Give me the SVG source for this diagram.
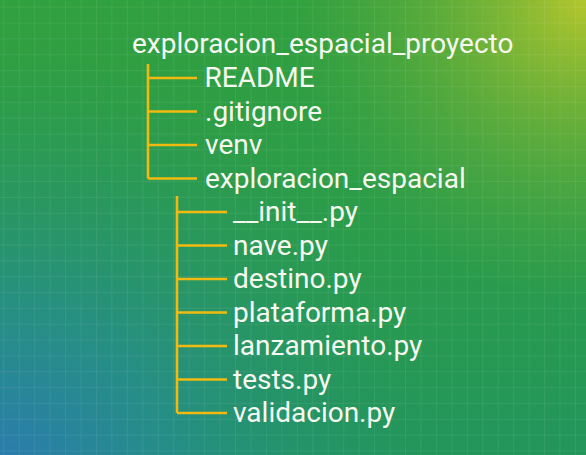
<svg xmlns="http://www.w3.org/2000/svg" width="586" height="455" viewBox="0 0 586 455">
  <style>
    .t { font-family: Roboto, "Noto Sans", "Liberation Sans", sans-serif; font-size: 28px; fill: #f6f8f0; }
    .c { stroke: #f2ba10; stroke-width: 2.6; fill: none; stroke-linecap: butt; }
  </style>
  <defs>
    <linearGradient id="base" x1="0" y1="0" x2="0" y2="1">
      <stop offset="0" stop-color="#31a03f"/>
      <stop offset="0.6" stop-color="#2a9b4c"/>
      <stop offset="1" stop-color="#23955c"/>
    </linearGradient>
    <radialGradient id="yel" cx="586" cy="0" r="300" gradientUnits="userSpaceOnUse">
      <stop offset="0" stop-color="#b4c62c" stop-opacity="1"/>
      <stop offset="0.5" stop-color="#86b834" stop-opacity="0.5"/>
      <stop offset="1" stop-color="#5fae3a" stop-opacity="0"/>
    </radialGradient>
    <radialGradient id="blu" cx="0" cy="480" r="430" gradientUnits="userSpaceOnUse">
      <stop offset="0" stop-color="#2b78b6" stop-opacity="0.95"/>
      <stop offset="0.4" stop-color="#2788a4" stop-opacity="0.6"/>
      <stop offset="1" stop-color="#249470" stop-opacity="0"/>
    </radialGradient>
    <pattern id="grid" x="3.3" y="6.7" width="15.45" height="15.85" patternUnits="userSpaceOnUse">
      <path d="M0 0 V15.85 M0 0 H15.45" stroke="#ffffff" stroke-opacity="0.13" stroke-width="1" fill="none"/>
    </pattern>
  </defs>

  <rect width="586" height="455" fill="url(#base)"/>
  <rect width="586" height="455" fill="url(#yel)"/>
  <rect width="586" height="455" fill="url(#blu)"/>
  <rect width="586" height="455" fill="url(#grid)"/>

  <g id="connectors">
    <path class="c" d="M148 64 V178.5 M148 78 H197 M148 111.5 H197 M148 145 H197 M148 178.5 H197"/>
    <path class="c" d="M177 196 V413 M177 212 H227 M177 245.5 H227 M177 279 H227 M177 312.5 H227 M177 346 H227 M177 379.5 H227 M177 413 H227"/>
  </g>

  <g id="root"><text class="t" x="132" y="53">exploracion_espacial_proyecto</text></g>
  <g id="readme"><text class="t" x="204.5" y="87">README</text></g>
  <g id="gitignore"><text class="t" x="205" y="120.5">.gitignore</text></g>
  <g id="venv"><text class="t" x="205" y="154">venv</text></g>
  <g id="pkg"><text class="t" x="205" y="187.5">exploracion_espacial</text></g>
  <g id="init"><text class="t" x="233" y="221">__init__.py</text></g>
  <g id="nave"><text class="t" x="233" y="254.5">nave.py</text></g>
  <g id="destino"><text class="t" x="233" y="288">destino.py</text></g>
  <g id="plataforma"><text class="t" x="233" y="321.5">plataforma.py</text></g>
  <g id="lanzamiento"><text class="t" x="233" y="355">lanzamiento.py</text></g>
  <g id="tests"><text class="t" x="233" y="388.5">tests.py</text></g>
  <g id="validacion"><text class="t" x="233" y="422">validacion.py</text></g>
</svg>
